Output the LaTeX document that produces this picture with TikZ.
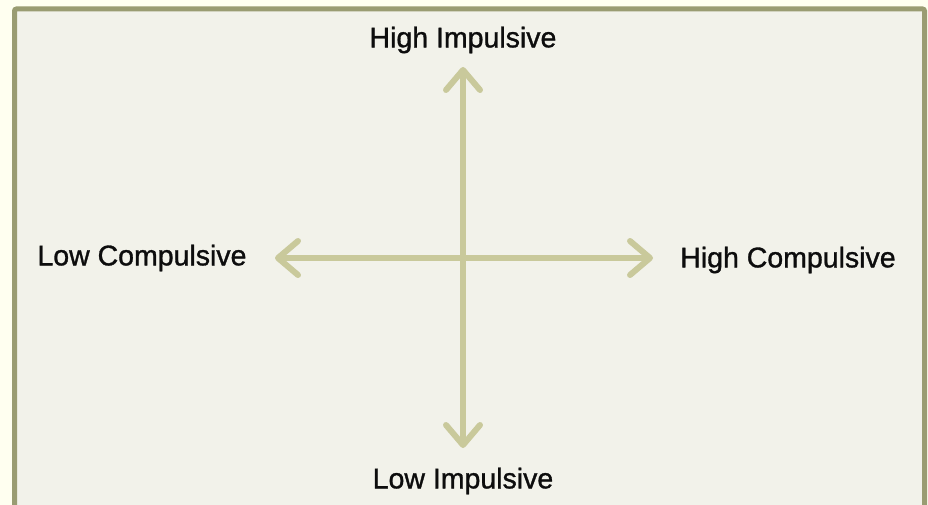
\documentclass[tikz,border=0pt]{standalone}
\usepackage{fontspec}
\newfontfamily\axislabelfont{Liberation Sans}[FakeBold=1.1]
\usepackage{xcolor}
\usetikzlibrary{arrows.meta}

\definecolor{pagebg}{HTML}{FFFFF0}
\definecolor{panelbg}{HTML}{F2F2EA}
\definecolor{panelframe}{HTML}{9A9C72}
\definecolor{axisgreen}{HTML}{C9C99B}

\begin{document}
\begin{tikzpicture}[x=1pt, y=-1pt,
    axis/.style={draw=axisgreen, line width=6pt, line cap=round,
      {Straight Barb[length=20pt, width=34pt, round]}-{Straight Barb[length=20pt, width=34pt, round]}},
    every node/.style={font=\axislabelfont\fontsize{28.5}{32}\selectfont, text=black!95}]
  \useasboundingbox (0,0) rectangle (928,505);
  \fill[pagebg] (0,0) rectangle (928,505);

  % panel
  \draw[panelframe, fill=panelbg, line width=5pt, rounded corners=2pt]
    (14.5,9) rectangle (924.5,530);

  % axis ends
  \coordinate (top) at (463,67);
  \coordinate (bot) at (463,448);
  \coordinate (lft) at (275,258);
  \coordinate (rgt) at (653,258);

  \draw[axis] (bot) -- (top);
  \draw[axis] (lft) -- (rgt);

  \node (hiimp) at (463,40) {High Impulsive};
  \node (loimp) at (463,481) {Low Impulsive};
  \node (locomp) at (142,258) {Low Compulsive};
  \node (hicomp) at (788,260) {High Compulsive};
\end{tikzpicture}
\end{document}
